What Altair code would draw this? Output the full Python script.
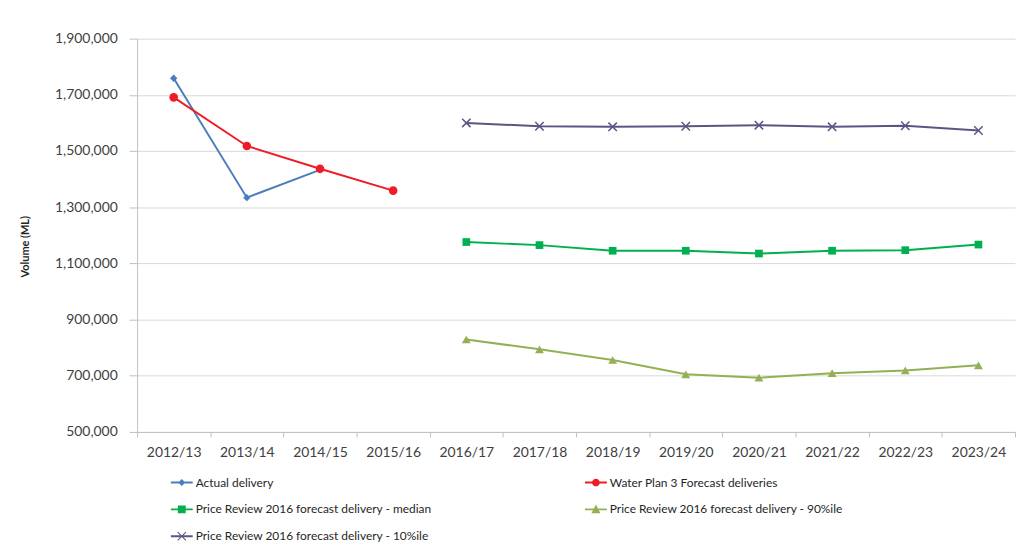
import altair as alt
import pandas as pd

# ---- data ----
years = ["2012/13", "2013/14", "2014/15", "2015/16", "2016/17", "2017/18",
         "2018/19", "2019/20", "2020/21", "2021/22", "2022/23", "2023/24"]

s_actual = "Actual delivery"
s_wp3 = "Water Plan 3 Forecast deliveries"
s_median = "Price Review 2016 forecast delivery - median"
s_p90 = "Price Review 2016 forecast delivery - 90%ile"
s_p10 = "Price Review 2016 forecast delivery - 10%ile"

# legend is filled column by column: this order gives the reference's rows
legend_order = [s_actual, s_median, s_p10, s_wp3, s_p90]

actual_years = ["2012/13", "2013/14", "2014/15"]
actual_values = [1759000, 1334000, 1433000]

wp3_years = ["2012/13", "2013/14", "2014/15", "2015/16"]
wp3_values = [1691000, 1518000, 1437000, 1359000]

pr_years = ["2016/17", "2017/18", "2018/19", "2019/20",
            "2020/21", "2021/22", "2022/23", "2023/24"]
median_values = [1176000, 1165000, 1145000, 1145000, 1135000, 1145000, 1147000, 1167000]
p90_values = [829000, 794000, 756000, 705000, 693000, 709000, 719000, 737000]
p10_values = [1600000, 1588000, 1586000, 1588000, 1592000, 1586000, 1590000, 1573000]

y_ticks = [500000, 700000, 900000, 1100000, 1300000, 1500000, 1700000, 1900000]

# ---- styling ----
series_color = {
    s_actual: "#4A7EBB",
    s_wp3: "#EE1C25",
    s_median: "#00B050",
    s_p90: "#94B054",
    s_p10: "#5E5483",
}

# legend symbols: line + marker (symbol units, filled shapes)
LINE = "M-1,-0.09H1V0.09H-1Z"
series_legend_path = {
    s_actual: LINE + "M0,-0.32L0.32,0L0,0.32L-0.32,0Z",
    s_wp3: LINE + "M-0.36,0A0.36,0.36 0 1,1 0.36,0A0.36,0.36 0 1,1 -0.36,0Z",
    s_median: LINE + "M-0.36,-0.36H0.36V0.36H-0.36Z",
    s_p90: LINE + "M0,-0.45L0.41,0.36H-0.41Z",
    s_p10: LINE + "M-0.41,-0.34L-0.34,-0.41L0.41,0.34L0.34,0.41Z"
                  "M-0.41,0.34L0.34,-0.41L0.41,-0.34L-0.34,0.41Z",
}

rows = []
for name, yrs, vals in [
    (s_actual, actual_years, actual_values),
    (s_wp3, wp3_years, wp3_values),
    (s_median, pr_years, median_values),
    (s_p90, pr_years, p90_values),
    (s_p10, pr_years, p10_values),
]:
    for yv, v in zip(yrs, vals):
        rows.append({"series": name, "year": yv, "value": v})
df = pd.DataFrame(rows)

legend = alt.Legend(
    orient="none", legendX=34, legendY=436, columns=2, columnPadding=154,
    rowPadding=10, symbolSize=484, symbolStrokeWidth=0, symbolOpacity=1,
    labelFont="Lato", labelFontSize=12, labelColor="#262626", labelOffset=3,
    labelLimit=0, padding=0, title=None,
)

x_enc = alt.X(
    "year:N",
    scale=alt.Scale(type="band", domain=years, paddingInner=0, paddingOuter=0),
    bandPosition=0.5,
    axis=alt.Axis(
        title=None, labelAngle=0, labelFont="Lato", labelFontSize=14,
        labelColor="#404040", labelPadding=9, tickSize=5, tickBand="extent",
        tickColor="#BFBFBF", domainColor="#BFBFBF", grid=False,
    ),
)
y_enc = alt.Y(
    "value:Q",
    scale=alt.Scale(domain=[500000, 1900000], nice=False, zero=False),
    axis=alt.Axis(
        values=y_ticks, format=",.0f", title="Volume (ML)",
        labelFont="Lato", labelFontSize=14, labelColor="#404040",
        labelPadding=12, tickSize=8, tickColor="#BFBFBF",
        domainColor="#BFBFBF", grid=True, gridColor="#D9D9D9",
        titleFont="Lato", titleFontSize=11, titleFontWeight="bold",
        titleColor="#262626", titleX=-112, titleY=209, titleAngle=270,
        titleAlign="center", titleBaseline="middle",
    ),
)
color_enc = alt.Color(
    "series:N",
    scale=alt.Scale(domain=legend_order, range=[series_color[s] for s in legend_order]),
    legend=legend,
)

base = alt.Chart(df)

legend_layer = base.transform_filter("false").mark_point(
    filled=True, opacity=1
).encode(
    x=x_enc, y=y_enc, color=color_enc,
    shape=alt.Shape(
        "series:N",
        scale=alt.Scale(domain=legend_order, range=[series_legend_path[s] for s in legend_order]),
        legend=legend,
    ),
)

lines = base.mark_line(strokeWidth=2).encode(x=x_enc, y=y_enc, color=color_enc)

marker_specs = [
    (s_actual, dict(shape="diamond", size=55, filled=True)),
    (s_wp3, dict(shape="circle", size=75, filled=True)),
    (s_median, dict(shape="square", size=60, filled=True)),
    (s_p90, dict(shape="triangle-up", size=80, filled=True)),
    (s_p10, dict(shape="M-1,-1L1,1M-1,1L1,-1", size=72, filled=False, strokeWidth=1.5)),
]
point_layers = [
    base.transform_filter(alt.datum.series == name).mark_point(opacity=1, **spec).encode(
        x=x_enc, y=y_enc, color=color_enc
    )
    for name, spec in marker_specs
]

chart = alt.layer(legend_layer, lines, *point_layers).properties(
    width=884, height=396,
    autosize=alt.AutoSizeParams(type="none"),
    padding={"left": 130, "top": 29, "right": 2, "bottom": 113},
    background="white",
).configure_view(stroke=None)

chart.save("out.html", embed_options={"renderer": "svg", "actions": False})
